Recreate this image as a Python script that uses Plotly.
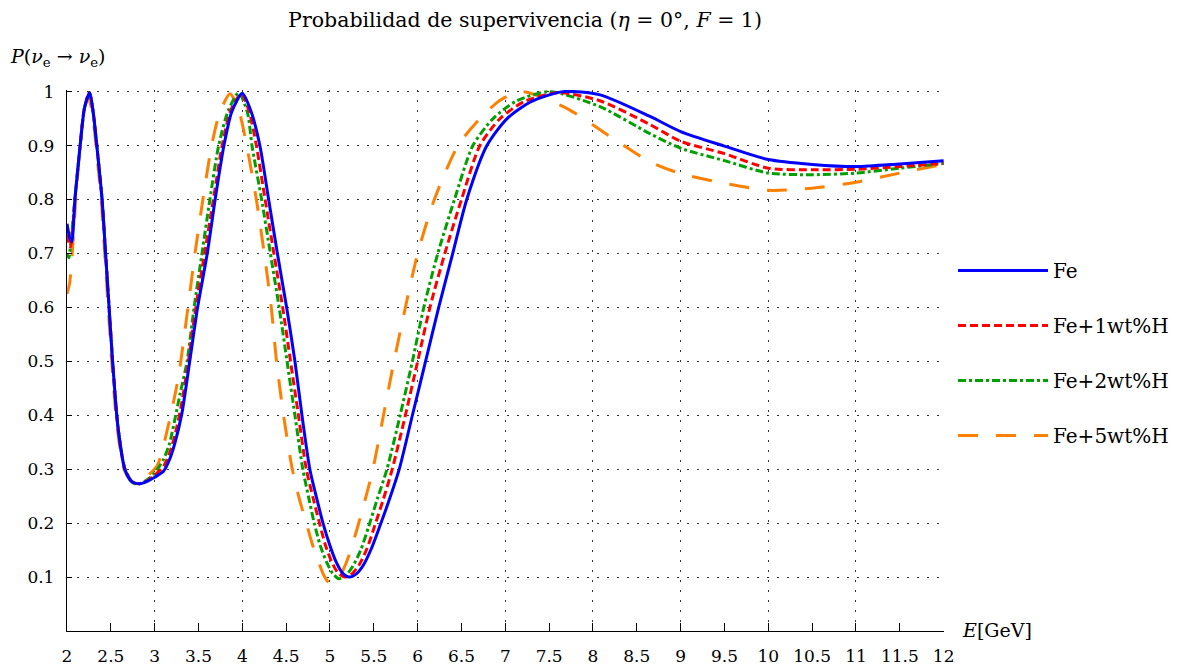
import plotly.graph_objects as go

# ---------------- data ----------------
E_fe = [2.00, 2.03, 2.055, 2.09, 2.15, 2.20, 2.26, 2.30, 2.34, 2.40, 2.44, 2.48, 2.52, 2.58,
        2.66, 2.74, 2.83, 2.92, 3.00, 3.10, 3.17, 3.23, 3.31, 3.40, 3.49, 3.60, 3.69, 3.79,
        3.88, 4.00, 4.10, 4.20, 4.30, 4.40, 4.505, 4.60, 4.68, 4.77, 4.85, 4.92, 5.00, 5.07,
        5.14, 5.22, 5.30, 5.38, 5.47, 5.57, 5.68, 5.79, 5.94, 6.09, 6.24, 6.40, 6.56, 6.79,
        7.02, 7.30, 7.66, 8.08, 8.65, 9.00, 9.50, 10.00, 10.50, 11.00, 11.50, 12.00]
P_fe = [0.755, 0.730, 0.722, 0.800, 0.900, 0.970, 0.998, 0.960, 0.900, 0.800, 0.700, 0.600, 0.500, 0.380,
        0.300, 0.277, 0.273, 0.278, 0.285, 0.296, 0.318, 0.348, 0.403, 0.500, 0.600, 0.700, 0.800, 0.900,
        0.963, 0.997, 0.963, 0.900, 0.800, 0.700, 0.600, 0.500, 0.400, 0.300, 0.245, 0.200, 0.158, 0.128,
        0.108, 0.100, 0.106, 0.122, 0.152, 0.195, 0.245, 0.300, 0.400, 0.500, 0.600, 0.700, 0.800, 0.900,
        0.950, 0.982, 1.000, 0.994, 0.954, 0.926, 0.899, 0.874, 0.865, 0.861, 0.866, 0.872]

E_h1 = [2.00, 2.04, 2.09, 2.15, 2.20, 2.255, 2.30, 2.34, 2.40, 2.44, 2.48, 2.52, 2.58, 2.66,
        2.74, 2.82, 2.92, 3.00, 3.10, 3.17, 3.23, 3.30, 3.385, 3.47, 3.57, 3.67, 3.77, 3.87,
        3.99, 4.08, 4.16, 4.26, 4.36, 4.46, 4.55, 4.64, 4.73, 4.81, 4.88, 4.95, 5.02, 5.09,
        5.17, 5.25, 5.33, 5.42, 5.51, 5.61, 5.71, 5.86, 6.00, 6.14, 6.31, 6.50, 6.71, 6.94,
        7.22, 7.60, 8.08, 8.65, 9.00, 9.50, 10.00, 10.50, 11.00, 11.50, 12.00]
P_h1 = [0.735, 0.712, 0.800, 0.900, 0.970, 0.998, 0.960, 0.900, 0.800, 0.700, 0.600, 0.500, 0.380, 0.300,
        0.277, 0.273, 0.279, 0.289, 0.305, 0.330, 0.362, 0.415, 0.500, 0.600, 0.700, 0.800, 0.900, 0.966,
        0.996, 0.962, 0.900, 0.800, 0.700, 0.600, 0.500, 0.400, 0.300, 0.245, 0.200, 0.158, 0.128, 0.108,
        0.100, 0.106, 0.122, 0.152, 0.195, 0.245, 0.300, 0.400, 0.500, 0.600, 0.700, 0.800, 0.900, 0.950,
        0.982, 0.998, 0.983, 0.939, 0.908, 0.885, 0.858, 0.855, 0.856, 0.861, 0.867]

E_h2 = [2.00, 2.02, 2.05, 2.09, 2.15, 2.20, 2.255, 2.30, 2.34, 2.40, 2.44, 2.48, 2.52, 2.58,
        2.66, 2.74, 2.81, 2.92, 3.00, 3.10, 3.17, 3.29, 3.37, 3.45, 3.54, 3.63, 3.73, 3.84,
        3.96, 4.06, 4.11, 4.22, 4.32, 4.42, 4.51, 4.60, 4.69, 4.76, 4.82, 4.89, 4.96, 5.03,
        5.10, 5.18, 5.26, 5.35, 5.44, 5.54, 5.65, 5.80, 5.94, 6.07, 6.23, 6.42, 6.63, 6.86,
        7.12, 7.50, 8.08, 8.65, 9.00, 9.50, 10.00, 10.50, 11.00, 11.50, 12.00]
P_h2 = [0.700, 0.692, 0.730, 0.800, 0.900, 0.970, 0.998, 0.960, 0.900, 0.800, 0.700, 0.600, 0.500, 0.380,
        0.300, 0.276, 0.272, 0.281, 0.293, 0.318, 0.348, 0.440, 0.500, 0.600, 0.700, 0.800, 0.900, 0.965,
        0.998, 0.960, 0.900, 0.800, 0.700, 0.600, 0.500, 0.400, 0.300, 0.245, 0.200, 0.158, 0.128, 0.107,
        0.097, 0.103, 0.120, 0.150, 0.193, 0.245, 0.300, 0.400, 0.500, 0.600, 0.700, 0.800, 0.900, 0.950,
        0.982, 1.000, 0.972, 0.922, 0.895, 0.872, 0.849, 0.846, 0.849, 0.858, 0.867]

E_h5 = [2.00, 2.03, 2.06, 2.10, 2.15, 2.19, 2.24, 2.29, 2.33, 2.39, 2.43, 2.47, 2.51, 2.57,
        2.65, 2.73, 2.81, 2.90, 3.03, 3.15, 3.27, 3.38, 3.46, 3.55, 3.65, 3.74, 3.86, 3.96,
        4.05, 4.16, 4.25, 4.33, 4.39, 4.47, 4.57, 4.65, 4.73, 4.80, 4.87, 4.93, 5.00, 5.07,
        5.14, 5.21, 5.31, 5.42, 5.49, 5.61, 5.73, 5.86, 6.00, 6.19, 6.46, 6.71, 6.95, 7.20,
        7.70, 8.23, 8.65, 9.00, 9.50, 10.00, 10.50, 11.00, 11.50, 12.00]
P_h5 = [0.625, 0.645, 0.700, 0.800, 0.900, 0.960, 0.990, 0.960, 0.900, 0.800, 0.700, 0.600, 0.500, 0.380,
        0.300, 0.278, 0.275, 0.285, 0.307, 0.377, 0.470, 0.600, 0.700, 0.800, 0.900, 0.960, 0.996, 0.965,
        0.900, 0.800, 0.700, 0.600, 0.500, 0.400, 0.300, 0.245, 0.200, 0.160, 0.128, 0.103, 0.088, 0.094,
        0.110, 0.137, 0.190, 0.255, 0.300, 0.400, 0.500, 0.600, 0.700, 0.800, 0.900, 0.950, 0.985, 1.000,
        0.969, 0.913, 0.870, 0.848, 0.830, 0.817, 0.821, 0.832, 0.849, 0.865]

series_names = ["Fe", "Fe+1wt%H", "Fe+2wt%H", "Fe+5wt%H"]
x_tick_vals = [2 + 0.5 * i for i in range(21)]
x_tick_text = ["2", "2.5", "3", "3.5", "4", "4.5", "5", "5.5", "6", "6.5", "7", "7.5",
               "8", "8.5", "9", "9.5", "10", "10.5", "11", "11.5", "12"]
x_grid_vals = [3, 4, 5, 6, 7, 8, 9, 10, 11, 12]
y_tick_vals = [0.1, 0.2, 0.3, 0.4, 0.5, 0.6, 0.7, 0.8, 0.9, 1.0]
y_tick_text = ["0.1", "0.2", "0.3", "0.4", "0.5", "0.6", "0.7", "0.8", "0.9", "1"]

# ---------------- styling ----------------
FONT = "DejaVu Serif"
styles = [
    dict(color="#0000ff", width=3, dash="solid"),
    dict(color="#ff0000", width=3, dash="8px,4px"),
    dict(color="#00a000", width=3, dash="8px,3px,3px,3px"),
    dict(color="#ff8000", width=3, dash="20px,18px"),
]
data = [(E_fe, P_fe), (E_h1, P_h1), (E_h2, P_h2), (E_h5, P_h5)]

fig = go.Figure()
# empty helper trace on the overlay axis that carries the vertical dotted grid
fig.add_trace(go.Scatter(x=[], y=[], xaxis="x2", yaxis="y", mode="lines",
                         showlegend=False, hoverinfo="skip"))
# draw in reverse so Fe (blue) is on top, legend order stays Fe first
for i in [3, 2, 1, 0]:
    ex, py = data[i]
    fig.add_trace(go.Scatter(
        x=ex, y=py, mode="lines", name=series_names[i],
        line=dict(shape="spline", smoothing=0.7, **styles[i]),
        legendgroup=f"g{i}", legendrank=i + 1,
    ))

grid_color = "#333333"
grid_dash = "1.5px,8.5px"
fig.update_layout(
    width=1181, height=669,
    margin=dict(l=67, r=237, t=90, b=38, autoexpand=False),
    paper_bgcolor="white", plot_bgcolor="white",
    font=dict(family=FONT, size=17, color="black"),
    showlegend=True,
    legend=dict(x=(953 - 67) / 877, xanchor="left", y=(631 - 251) / 541, yanchor="top",
                traceorder="grouped", tracegroupgap=26, itemwidth=90,
                font=dict(family=FONT, size=20), bgcolor="rgba(0,0,0,0)"),
    title=dict(text="Probabilidad de supervivencia (<i>η</i> = 0°, <i>F</i> = 1)",
               x=525 / 1181, xanchor="center", y=1 - 20 / 669, yanchor="middle",
               xref="container", yref="container",
               font=dict(family=FONT, size=20.5)),
    xaxis=dict(range=[2, 12.004], tickmode="array", tickvals=x_tick_vals, ticktext=x_tick_text,
               showgrid=False, zeroline=False, showline=True, linecolor="black", linewidth=1.3,
               ticks="inside", ticklen=8, tickwidth=1, tickcolor="black", tickangle=0,
               automargin=False,
               ticklabelstandoff=9, tickfont=dict(family=FONT, size=17)),
    xaxis2=dict(range=[2, 12.004], overlaying="x", anchor="y", side="bottom",
                tickmode="array", tickvals=x_grid_vals, showticklabels=False, ticks="",
                showgrid=True, gridcolor=grid_color, gridwidth=1.2, griddash=grid_dash,
                zeroline=False, showline=False, automargin=False),
    yaxis=dict(range=[0, 1.003], tickmode="array", tickvals=y_tick_vals, ticktext=y_tick_text,
               showgrid=True, gridcolor=grid_color, gridwidth=1.2, griddash=grid_dash,
               zeroline=False, showline=True, linecolor="black", linewidth=1.3,
               ticks="inside", ticklen=5, tickwidth=1, tickcolor="black",
               automargin=False,
               ticklabelstandoff=8, tickfont=dict(family=FONT, size=17)),
    annotations=[
        dict(text="<i>P</i>(<i>ν</i><sub>e</sub> → <i>ν</i><sub>e</sub>)",
             xref="paper", yref="paper", x=(8 - 67) / 877, y=(631 - 58) / 541,
             xanchor="left", yanchor="middle", showarrow=False,
             font=dict(family=FONT, size=19)),
        dict(text="<i>E</i>[GeV]",
             xref="paper", yref="paper", x=(960 - 67) / 877, y=(631 - 630) / 541,
             xanchor="left", yanchor="middle", showarrow=False,
             font=dict(family=FONT, size=19)),
    ],
)

fig.write_html("out.html")
